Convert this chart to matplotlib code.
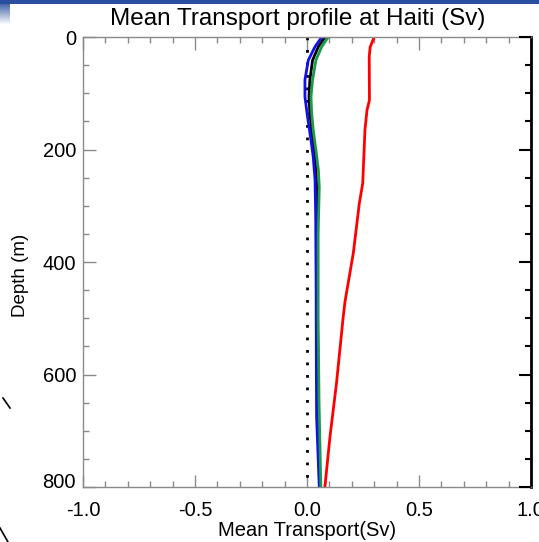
import numpy as np
import matplotlib
matplotlib.use("Agg")
import matplotlib.pyplot as plt
import matplotlib.transforms as mtransforms
from matplotlib.patches import Rectangle
from matplotlib.lines import Line2D
from matplotlib.ticker import MultipleLocator

plt.rcParams['font.family'] = ['Liberation Sans', 'DejaVu Sans']

# transport profiles (Sv) against depth (m)
depth_red = [0, 18, 35, 112, 130, 165, 260, 295, 384, 470, 497, 615, 710, 800]
trans_red = [0.300, 0.282, 0.278, 0.279, 0.268, 0.259, 0.249, 0.234, 0.207, 0.170, 0.162, 0.132, 0.103, 0.080]

depth_black = [0, 17, 41, 76, 106, 135, 165, 201, 236, 266, 350, 500, 650, 800]
trans_black = [0.080, 0.051, 0.025, 0.013, 0.009, 0.013, 0.021, 0.031, 0.040, 0.043, 0.045, 0.047, 0.050, 0.056]

depth_blue = [0, 17, 41, 76, 106, 140, 178, 213, 254, 320, 450, 600, 675, 800]
trans_blue = [0.066, 0.036, 0.006, -0.009, -0.009, 0.002, 0.016, 0.028, 0.036, 0.039, 0.041, 0.042, 0.043, 0.055]

depth_green = [0, 17, 41, 76, 106, 135, 165, 201, 236, 266, 350, 500, 650, 800]
trans_green = [0.095, 0.066, 0.040, 0.025, 0.018, 0.021, 0.028, 0.040, 0.051, 0.055, 0.050, 0.050, 0.054, 0.062]

fig = plt.figure(figsize=(5.39, 5.42), dpi=100)
ax = fig.add_axes([0.154, 0.1015, 0.831, 0.830])

ax.plot([0, 0], [0, 800], color='black', linestyle=(0, (1, 3.5)), linewidth=2)
ax.plot(trans_black, depth_black, color='black', linewidth=2)
ax.plot(trans_blue, depth_blue, color='#1010ee', linewidth=2)
ax.plot(trans_green, depth_green, color='#1a9a4a', linewidth=2)
ax.plot(trans_red, depth_red, color='#ff0000', linewidth=2)

ax.set_xlim(-1.0, 1.0)
ax.set_ylim(800, 0)
ax.xaxis.set_major_locator(MultipleLocator(0.5))
ax.xaxis.set_minor_locator(MultipleLocator(0.1))
ax.yaxis.set_major_locator(MultipleLocator(200))
ax.yaxis.set_minor_locator(MultipleLocator(50))
ax.xaxis.set_major_formatter(plt.FormatStrFormatter('%.1f'))

grey = '#8a8a8a'
for side in ['left', 'bottom', 'top']:
    ax.spines[side].set_color(grey)
    ax.spines[side].set_linewidth(1.0)
ax.spines['right'].set_color('black')
ax.spines['right'].set_linewidth(2.0)

ax.tick_params(which='both', direction='in', top=True, right=False, color=grey,
               labelsize=14.5, labelcolor='black')
ax.tick_params(axis='x', pad=10)
ax.tick_params(axis='y', pad=5)
ax.tick_params(which='major', length=9, width=1)
ax.tick_params(which='minor', length=4.5, width=1)

# lift the bottom depth label clear of the x labels
fig.canvas.draw()
ylabels = ax.get_yticklabels()
shift = mtransforms.ScaledTranslation(0, 6 / 100, fig.dpi_scale_trans)
for lab in ylabels:
    if lab.get_text() == '800':
        lab.set_transform(lab.get_transform() + shift)

# black ticks along the right edge
ax2 = ax.twinx()
ax2.set_ylim(800, 0)
ax2.yaxis.set_major_locator(MultipleLocator(200))
ax2.yaxis.set_minor_locator(MultipleLocator(50))
ax2.tick_params(which='both', direction='in', color='black', labelright=False)
ax2.tick_params(which='major', length=9, width=1.5)
ax2.tick_params(which='minor', length=4.5, width=1.5)
for side in ['left', 'bottom', 'top', 'right']:
    ax2.spines[side].set_visible(False)

ax.set_title('Mean Transport profile at Haiti (Sv)', fontsize=17.5, pad=9, x=0.48)
ax.set_xlabel('Mean Transport(Sv)', fontsize=14.5, labelpad=1)
ax.set_ylabel('Depth (m)', fontsize=13.5)
ax.yaxis.set_label_coords(-0.12, 0.47)

# slide banner and decoration
fig.add_artist(Rectangle((0, 1 - 4 / 542), 1, 4 / 542, transform=fig.transFigure,
                         facecolor='#2b4f9e', edgecolor='none'))
for i in range(20):
    fig.add_artist(Rectangle((0, 1 - (5 + i) / 542), 10 / 539, 1 / 542,
                             transform=fig.transFigure, facecolor='#2b4f9e',
                             edgecolor='none', alpha=0.85 * (1 - i / 20)))
fig.add_artist(Line2D([3 / 539, 10 / 539], [1 - 398 / 542, 1 - 408 / 542],
                      transform=fig.transFigure, color='black', linewidth=1.2))
fig.add_artist(Line2D([0, 8 / 539], [1 - 528 / 542, 1 - 542 / 542],
                      transform=fig.transFigure, color='black', linewidth=1.2))

fig.savefig('out.png', dpi=100)
